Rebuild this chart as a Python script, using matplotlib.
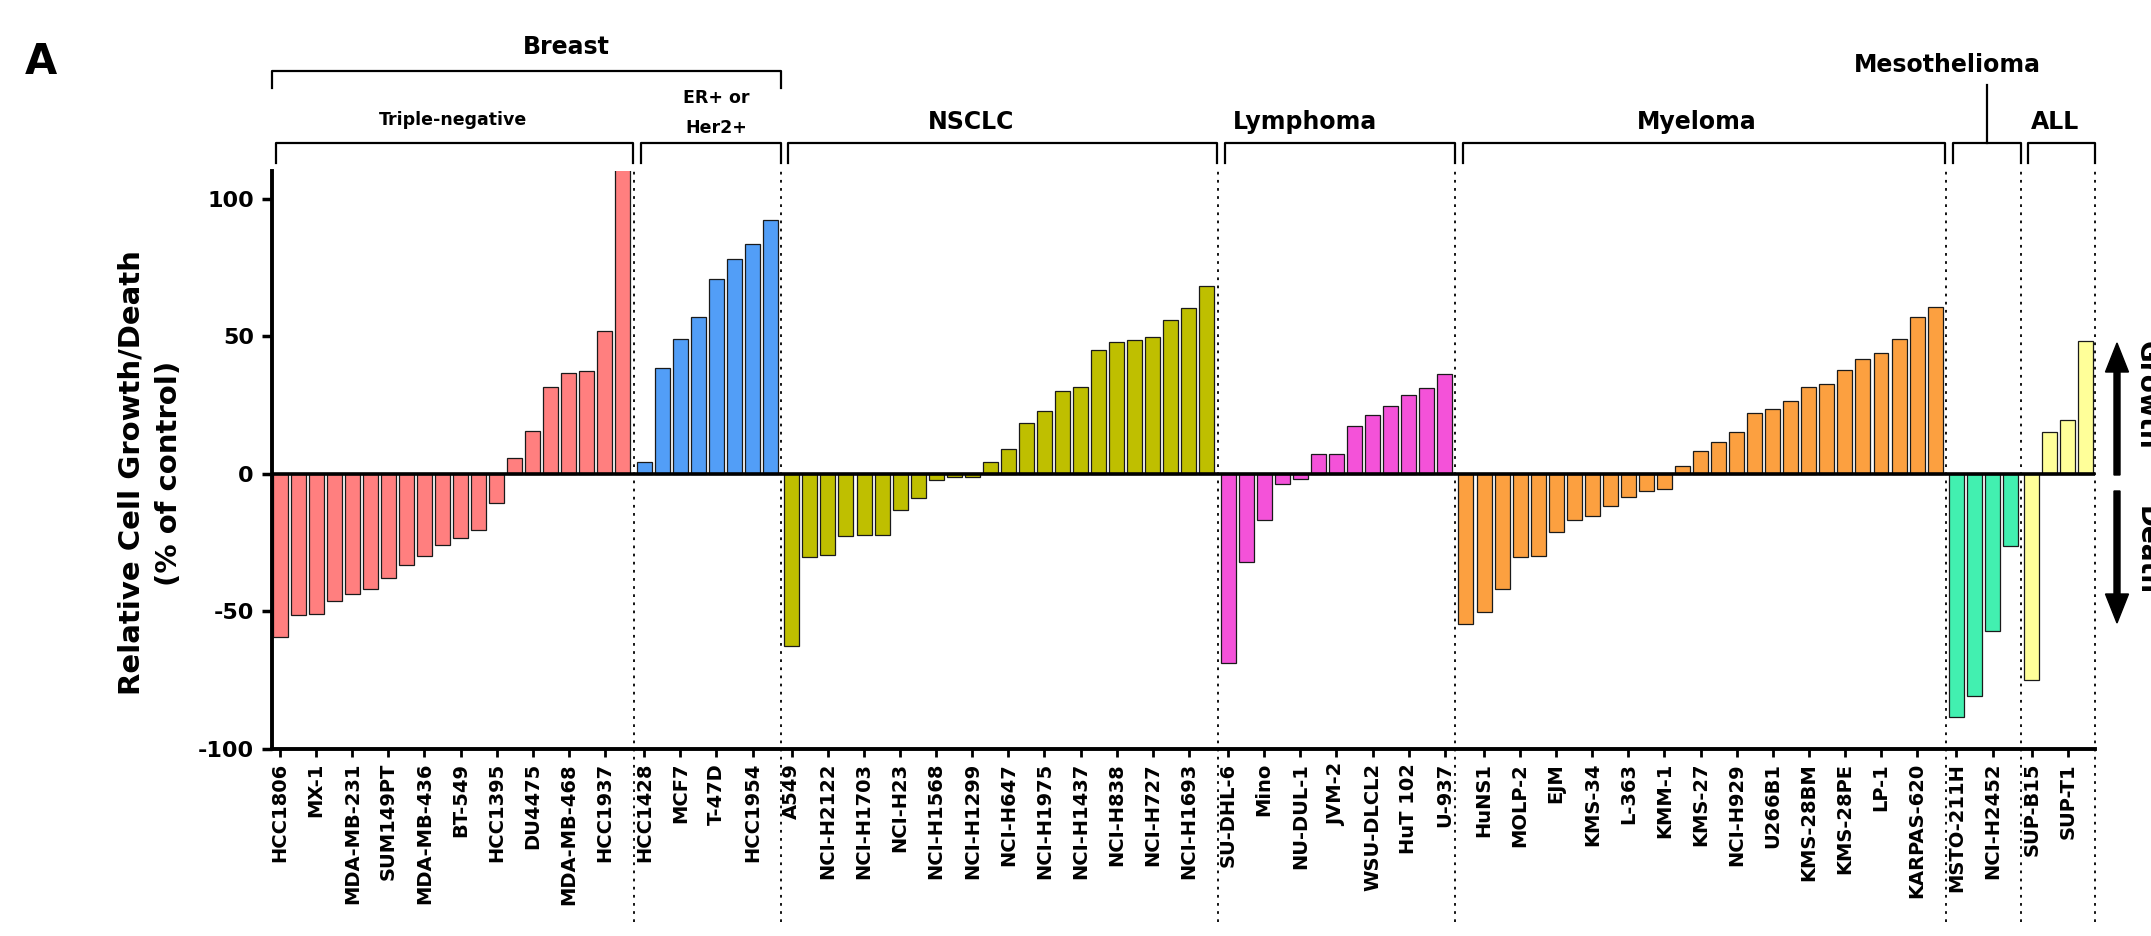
import numpy as np
import matplotlib.pyplot as plt
from matplotlib.patches import FancyArrow
from matplotlib.transforms import blended_transform_factory

plt.rcParams['font.family'] = 'DejaVu Sans'
plt.rcParams['font.weight'] = 'bold'
plt.rcParams['axes.unicode_minus'] = False

###########################################
# values (% of control), one list per tumour group

triple_neg = [-59.4, -51.3, -51.1, -46.4, -43.8, -41.7, -38.0, -33.0, -29.9, -25.9,
              -23.5, -20.4, -10.7, 5.8, 15.5, 31.5, 36.7, 37.2, 51.9, 112]
er_her2 = [4.4, 38.4, 48.8, 56.9, 70.7, 78.2, 83.6, 92.3]
nsclc = [-62.5, -30.4, -29.4, -22.5, -22.1, -22.1, -13.1, -8.9, -2.1, -1.3, -1.0, 4.1,
         8.9, 18.5, 22.9, 29.9, 31.5, 45.1, 47.7, 48.5, 49.8, 55.8, 60.1, 68.2]
lymphoma = [-68.7, -32.2, -16.9, -3.6, -1.8, 7.3, 7.3, 17.2, 21.3, 24.5, 28.5, 31.0, 36.3]
myeloma = [-54.7, -50.2, -42.0, -30.3, -29.8, -21.0, -16.7, -15.3, -11.7, -8.4, -6.3, -5.4,
           2.8, 8.3, 11.7, 15.3, 21.9, 23.7, 26.6, 31.6, 32.6, 37.6, 41.6, 43.7, 48.9,
           56.9, 60.5]
mesothelioma = [-88.3, -80.9, -57.3, -26.4]
all_leuk = [-75.0, 15.3, 19.5, 48.1]

# only every other bar carries a name on the axis
tick_labels = ['HCC1806', 'MX-1', 'MDA-MB-231', 'SUM149PT', 'MDA-MB-436', 'BT-549',
               'HCC1395', 'DU4475', 'MDA-MB-468', 'HCC1937',
               'HCC1428', 'MCF7', 'T-47D', 'HCC1954',
               'A549', 'NCI-H2122', 'NCI-H1703', 'NCI-H23', 'NCI-H1568', 'NCI-H1299',
               'NCI-H647', 'NCI-H1975', 'NCI-H1437', 'NCI-H838', 'NCI-H727', 'NCI-H1693',
               'SU-DHL-6', 'Mino', 'NU-DUL-1', 'JVM-2', 'WSU-DLCL2', 'HuT 102', 'U-937',
               'HuNS1', 'MOLP-2', 'EJM', 'KMS-34', 'L-363', 'KMM-1', 'KMS-27', 'NCI-H929',
               'U266B1', 'KMS-28BM', 'KMS-28PE', 'LP-1', 'KARPAS-620',
               'MSTO-211H', 'NCI-H2452',
               'SUP-B15', 'SUP-T1']

groups = [triple_neg, er_her2, nsclc, lymphoma, myeloma, mesothelioma, all_leuk]
colors = ['#FF7F7F', '#529EF7', '#BFBF00', '#F452D9', '#FCA040', '#42F0B0', '#FFFF99']

###########################################

W, H = 2151, 936
fig = plt.figure(figsize=(W / 100, H / 100), dpi=100)


def fx(px):
    return px / W


def fy(py):
    return 1 - py / H


ax = fig.add_axes([fx(272), fy(749), fx(2095) - fx(272), fy(171) - fy(749)])

gap = 0.18
xs, vals, cols, spans = [], [], [], []
n = 0
for g, (v, c) in enumerate(zip(groups, colors)):
    pos = np.arange(len(v)) + n + gap * g
    xs.extend(pos)
    vals.extend(v)
    cols.extend([c] * len(v))
    spans.append((pos[0], pos[-1]))
    n += len(v)
xs = np.array(xs)

ax.bar(xs, vals, width=0.83, color=cols, edgecolor='#1a1a1a', linewidth=0.9, zorder=2)
ax.axhline(0, color='k', lw=2.6, zorder=3)

x_left, x_right = xs[0] - 0.45, xs[-1] + 0.5
ax.set_xlim(x_left, x_right)
ax.set_ylim(-100, 110)

for s in ['top', 'right']:
    ax.spines[s].set_visible(False)
for s in ['left', 'bottom']:
    ax.spines[s].set_linewidth(2.8)

ax.set_yticks([-100, -50, 0, 50, 100])
ax.tick_params(axis='y', length=7, width=2.5, labelsize=16, pad=6)
ax.set_xticks(xs[::2])
ax.set_xticklabels(tick_labels, rotation=90, fontsize=14, fontweight='bold')
ax.tick_params(axis='x', length=6, width=2, pad=4)

# dotted separators between the groups
seps = [(spans[g][1] + spans[g + 1][0]) / 2 for g in range(len(spans) - 1)] + [x_right]
for s in seps:
    ax.plot([s, s], [-163, 110], color='k', lw=1.3, ls=(0, (1.5, 3)), clip_on=False, zorder=1)

# brackets above the plot
trans = blended_transform_factory(ax.transData, fig.transFigure)


def bracket(x0, x1, ytop, ybot):
    ax.plot([x0, x0, x1, x1], [fy(ybot), fy(ytop), fy(ytop), fy(ybot)],
            transform=trans, color='k', lw=1.6, clip_on=False)


lefts = [x_left + 0.2] + [s + 0.4 for s in seps[:-1]]
rights = [s - 0.02 for s in seps]
for x0, x1 in zip(lefts, rights):
    bracket(x0, x1, 143, 163)
bracket(x_left, seps[1], 71, 88)

meso_mid = (lefts[5] + rights[5]) / 2
ax.plot([meso_mid, meso_mid], [fy(143), fy(85)], transform=trans, color='k', lw=1.6,
        clip_on=False)

fig.text(fx(566), fy(47), 'Breast', fontsize=17, ha='center', va='center')
fig.text(fx(453), fy(120), 'Triple-negative', fontsize=12.5, ha='center', va='center')
fig.text(fx(716), fy(113), 'ER+ or\nHer2+', fontsize=12.5, ha='center', va='center',
         linespacing=1.8)
fig.text(fx(971), fy(122), 'NSCLC', fontsize=17, ha='center', va='center')
fig.text(fx(1305), fy(122), 'Lymphoma', fontsize=17, ha='center', va='center')
fig.text(fx(1697), fy(122), 'Myeloma', fontsize=17, ha='center', va='center')
fig.text(fx(1947), fy(65), 'Mesothelioma', fontsize=17, ha='center', va='center')
fig.text(fx(2055), fy(122), 'ALL', fontsize=17, ha='center', va='center')

fig.text(fx(41), fy(62), 'A', fontsize=30, ha='center', va='center')
fig.text(fx(150), fy(473), 'Relative Cell Growth/Death\n(% of control)', rotation=90,
         fontsize=21, ha='center', va='center', linespacing=1.45)

# growth / death arrows on the right edge (the words run off the edge, as in the source)
fig.add_artist(FancyArrow(21.17, 4.61, 0, 1.32, width=0.06, head_width=0.23,
                          head_length=0.29, length_includes_head=True, color='k',
                          transform=fig.dpi_scale_trans))
fig.add_artist(FancyArrow(21.17, 4.45, 0, -1.32, width=0.06, head_width=0.23,
                          head_length=0.29, length_includes_head=True, color='k',
                          transform=fig.dpi_scale_trans))
fig.text(fx(2133), fy(395), 'Growth', rotation=-90, fontsize=19, ha='left', va='center')
fig.text(fx(2133), fy(550), 'Death', rotation=-90, fontsize=19, ha='left', va='center')

fig.savefig('out.png', dpi=100)
